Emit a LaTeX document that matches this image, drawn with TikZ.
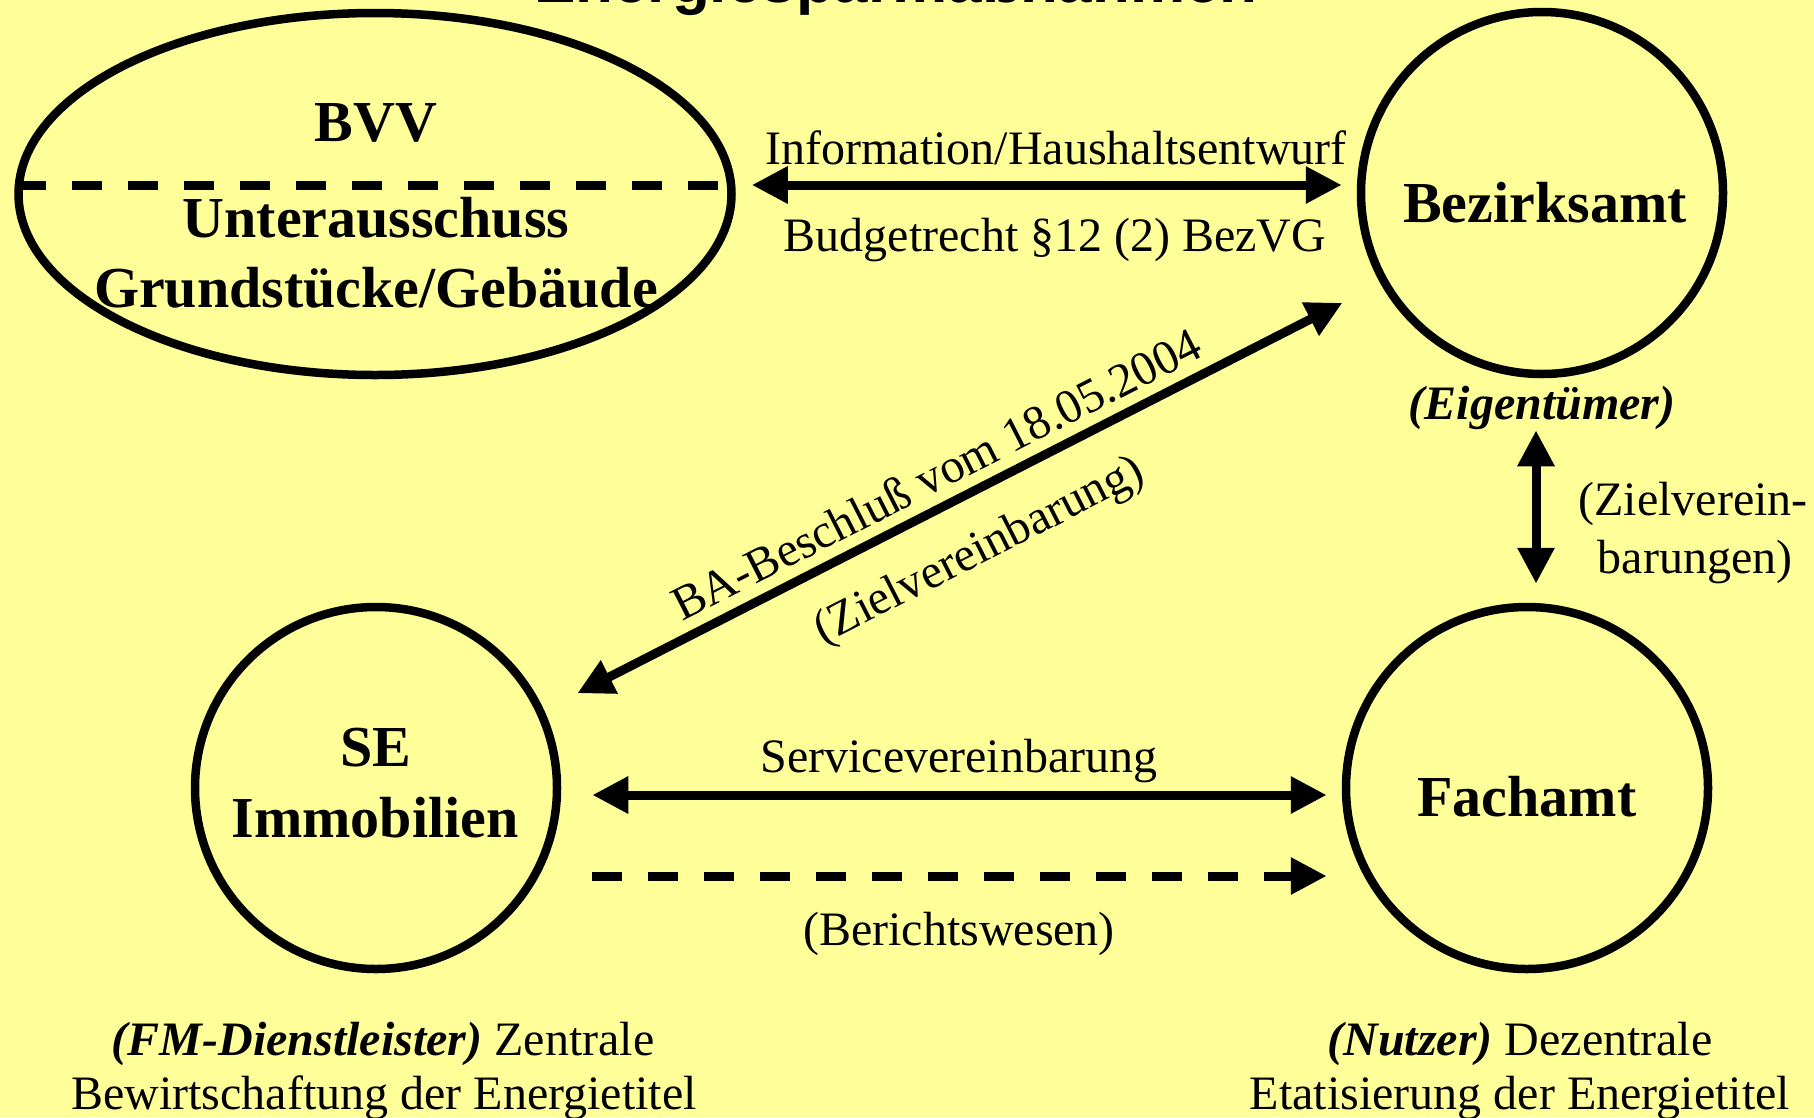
\documentclass[tikz,border=0pt]{standalone}
\usepackage{fontspec}
\setmainfont{Liberation Serif}
\newfontfamily\titlefont{Liberation Sans}
\usetikzlibrary{arrows.meta,shapes.geometric,calc}
\definecolor{bgyellow}{HTML}{FFFF99}
\tikzset{
  outline/.style={draw=black, line width=8.5pt, inner sep=0pt},
  tip/.tip={Triangle[length=36pt,width=35pt]},
  dbl/.style={line width=9pt, tip-tip},
  sgl/.style={line width=9pt, -tip},
  dashpat/.style={line width=9pt, dash pattern=on 30pt off 26pt},
  bigtxt/.style={font=\fontsize{58}{69}\selectfont\bfseries, inner sep=0pt, anchor=base},
  txt/.style={font=\fontsize{48}{58}\selectfont, inner sep=0pt, anchor=base},
  itxt/.style={font=\fontsize{48}{58}\selectfont\bfseries\itshape, inner sep=0pt, anchor=base},
  titletxt/.style={font=\fontsize{62}{70}\selectfont\titlefont\bfseries, inner sep=0pt, anchor=base}
}
\begin{document}
\begin{tikzpicture}[x=1pt,y=-1pt]
\fill[bgyellow] (0,0) rectangle (1814,1117);
\useasboundingbox (0,0) rectangle (1814,1117);

% title (cut at top)
\node[titletxt] (title) at (896,2) {Energiesparmaßnahmen};

% shapes
\node[ellipse, outline, minimum width=713pt, minimum height=362pt] (bvv) at (375,194) {};
\node[circle, outline, minimum size=362pt] (bz) at (1542,193) {};
\node[circle, outline, minimum size=362pt] (se) at (376,788) {};
\node[circle, outline, minimum size=362pt] (fa) at (1527,788) {};

% dashed divider in ellipse
\draw[dashpat, dash phase=-2pt] ([yshift=9pt]bvv.west) -- ([yshift=9pt]bvv.east);

% texts inside
\node[bigtxt] (tbvv) at (376,141) {BVV};
\node[bigtxt] (tua1) at (376,237) {Unterausschuss};
\node[bigtxt] (tua2) at (376,307) {Grundstücke/Gebäude};
\node[bigtxt] (tbz) at (1545,222) {Bezirksamt};
\node[bigtxt] (tse1) at (376,766) {SE};
\node[bigtxt] (tse2) at (375,837) {Immobilien};
\node[bigtxt] (tfa) at (1527,816) {Fachamt};

% connectors
\draw[dbl] ([xshift=16pt]bvv.east |- 0,185) -- ([xshift=-15pt]bz.west |- 0,185);
\node[txt] (linfo) at (1056,164) {Information/Haushaltsentwurf};
\node[txt] (lbudget) at (1055,251) {Budgetrecht §12 (2) BezVG};

\draw[dbl, shorten <=226pt, shorten >=224pt] ([yshift=-8pt]se.center) -- ([yshift=-8pt]bz.center);
\node[txt, anchor=center, rotate=27] (lba) at (936,474) {BA-Beschluß vom 18.05.2004};
\node[txt, anchor=center, rotate=27] (lziel) at (980,552) {(Zielvereinbarung)};

\draw[dbl] ($(bz.south -| 1536,0)+(0,52)$) -- ($(fa.north -| 1536,0)+(0,-19)$);
\node[itxt] (leig) at (1542,419) {(Eigentümer)};
\node[txt] (lzv1) at (1693,515) {(Zielverein-};
\node[txt] (lzv2) at (1695,573) {barungen)};

\draw[dbl] ([xshift=31pt]se.east |- 0,795) -- ([xshift=-15pt]fa.west |- 0,795);
\node[txt] (lsv) at (959,772) {Servicevereinbarung};

\draw[dashpat] ([xshift=31pt]se.east |- 0,876) -- ([xshift=-49pt]fa.west |- 0,876) coordinate (d2);
\draw[sgl] (d2) -- ([xshift=-15pt]fa.west |- 0,876);
\node[txt] (lber) at (959,945) {(Berichtswesen)};

% bottom captions
\node[txt] (bl1) at (383,1055) {\textbf{\textit{(FM-Dienstleister)}} Zentrale};
\node[txt] (bl2) at (384,1109) {Bewirtschaftung der Energietitel};
\node[txt] (br1) at (1520,1055) {\textbf{\textit{(Nutzer)}} Dezentrale};
\node[txt] (br2) at (1520,1109) {Etatisierung der Energietitel};
\end{tikzpicture}
\end{document}
